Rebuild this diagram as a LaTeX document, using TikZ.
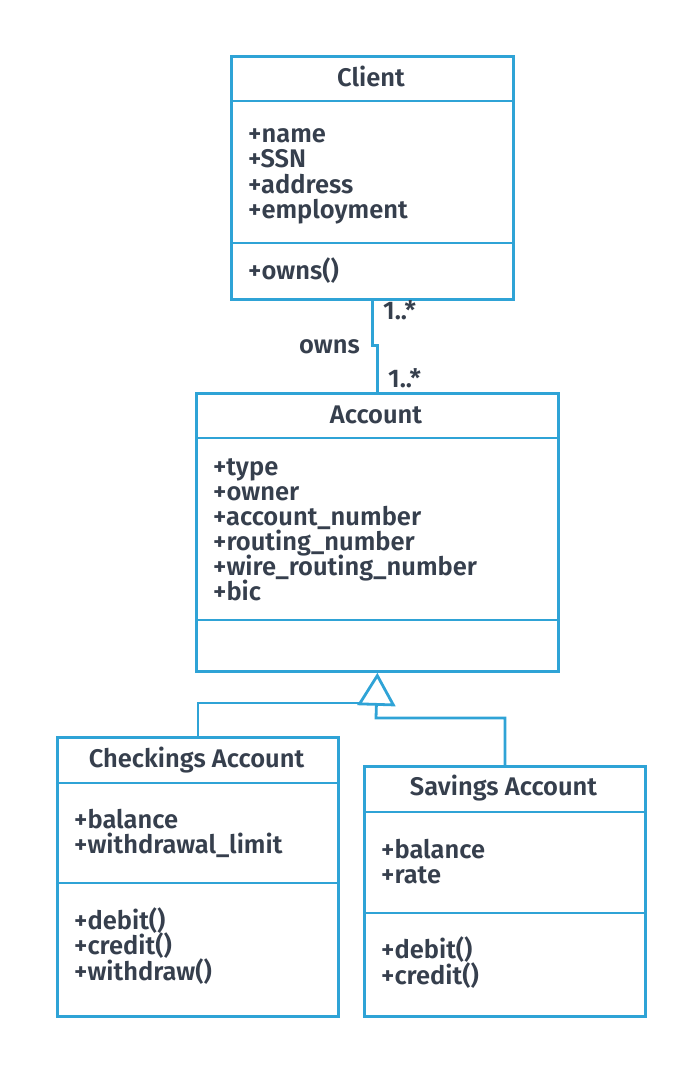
\documentclass[tikz,border=0pt]{standalone}
\usepackage{fontspec}
\setmainfont{Fira Sans SemiBold}
\usetikzlibrary{arrows.meta}
\definecolor{umlblue}{HTML}{2FA3D6}
\definecolor{umltext}{HTML}{363F4D}
\begin{document}
\begin{tikzpicture}[x=1pt,y=-1pt,
  classbox/.style={draw=umlblue,line width=2.8pt,inner sep=0pt,anchor=north west},
  divider/.style={draw=umlblue,line width=2.8pt},
  conn/.style={draw=umlblue,line width=2.8pt},
  txt/.style={anchor=base west,inner sep=0pt,text=umltext,font=\fontsize{25.5}{28}\selectfont},
  ttl/.style={anchor=base,inner sep=0pt,text=umltext,font=\fontsize{25.5}{28}\selectfont},
]
\useasboundingbox (0,0) rectangle (700,1071);
% Client
\node[classbox,minimum width=282pt,minimum height=243pt] (client) at (230,55) {};
\draw[divider] (client.west |- 0,101) -- (client.east |- 0,101);
\draw[divider] (client.west |- 0,243) -- (client.east |- 0,243);
\node[ttl] (clientT) at (371,86) {Client};
\node[txt] (c1) at (248,142) {+name};
\node[txt] (c2) at (248,167) {+SSN};
\node[txt] (c3) at (248,193) {+address};
\node[txt] (c4) at (248,218) {+employment};
\node[txt] (c5) at (248,279) {+owns()};
% Account
\node[classbox,minimum width=362pt,minimum height=278pt] (account) at (195,392) {};
\draw[divider] (account.west |- 0,438) -- (account.east |- 0,438);
\draw[divider] (account.west |- 0,620) -- (account.east |- 0,620);
\node[ttl] (accountT) at (376,423) {Account};
\node[txt] (a1) at (213,475) {+type};
\node[txt] (a2) at (213,500) {+owner};
\node[txt] (a3) at (213,525) {+account\_number};
\node[txt] (a4) at (213,550) {+routing\_number};
\node[txt] (a5) at (213,575) {+wire\_routing\_number};
\node[txt] (a6) at (213,600) {+bic};
% Checkings
\node[classbox,minimum width=281pt,minimum height=279pt] (check) at (56,736) {};
\draw[divider] (check.west |- 0,783) -- (check.east |- 0,783);
\draw[divider] (check.west |- 0,883) -- (check.east |- 0,883);
\node[ttl] (checkT) at (196.5,767) {Checkings Account};
\node[txt] (k1) at (74,828) {+balance};
\node[txt] (k2) at (74,853) {+withdrawal\_limit};
\node[txt] (k3) at (74,929) {+debit()};
\node[txt] (k4) at (74,954) {+credit()};
\node[txt] (k5) at (74,980) {+withdraw()};
% Savings
\node[classbox,minimum width=281pt,minimum height=250pt] (save) at (363,765) {};
\draw[divider] (save.west |- 0,812) -- (save.east |- 0,812);
\draw[divider] (save.west |- 0,913) -- (save.east |- 0,913);
\node[ttl] (saveT) at (503.5,795) {Savings Account};
\node[txt] (s1) at (381,858) {+balance};
\node[txt] (s2) at (381,883) {+rate};
\node[txt] (s3) at (381,958) {+debit()};
\node[txt] (s4) at (381,984) {+credit()};
% Association
\draw[conn] (client.south) -- ++(0,45) -| (account.north);
\node[txt] (m1) at (383,319) {1..*};
\node[txt,anchor=base east] (own) at (360,353) {owns};
\node[txt] (m2) at (388,387) {1..*};
% Generalization
\coordinate (tipL) at (359,703);
\coordinate (joinS) at (376,718);
\draw[conn,-{Triangle[open,length=33pt,width=38pt]}] (save.north) |- (joinS) -- (account.south);
\draw[conn] (check.north) |- (tipL);
\end{tikzpicture}
\end{document}
